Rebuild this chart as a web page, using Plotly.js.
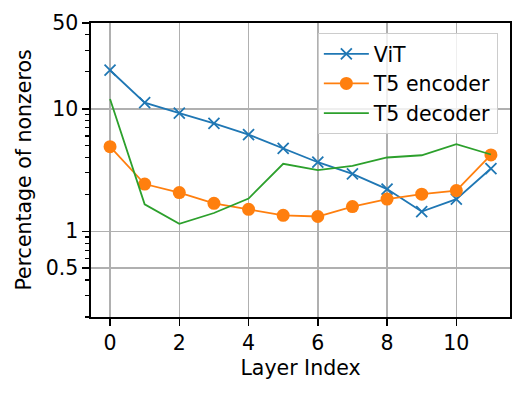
<!DOCTYPE html>
<html>
<head>
<meta charset="utf-8">
<script src="https://cdn.plot.ly/plotly-3.0.1.min.js"></script>
<style>
  html, body { margin: 0; padding: 0; background: #fff; }
  #plot { width: 524px; height: 395px; }
</style>
</head>
<body>
<div id="plot"></div>
<script>
// layer index 0..11
const layers = [0, 1, 2, 3, 4, 5, 6, 7, 8, 9, 10, 11];

// percentage of nonzeros per layer
const vit = [20.6, 11.2, 9.2, 7.6, 6.15, 4.75, 3.66, 2.94, 2.21, 1.45, 1.83, 3.25];
const t5Encoder = [4.9, 2.43, 2.07, 1.69, 1.51, 1.35, 1.32, 1.59, 1.83, 2.01, 2.15, 4.2];
const t5Decoder = [12.0, 1.66, 1.15, 1.41, 1.85, 3.55, 3.15, 3.42, 4.0, 4.17, 5.13, 4.23];

const yTickVals = [0.5, 1, 10, 50];
const yTickText = ['0.5', '1', '10', '50'];
const yMinorVals = [0.2, 0.3, 0.4, 0.6, 0.7, 0.8, 0.9,
  2, 3, 4, 5, 6, 7, 8, 9, 20, 30, 40];
const xTickVals = [0, 2, 4, 6, 8, 10];

const font = { family: 'DejaVu Sans', size: 20.5, color: '#000' };

const traces = [
  {
    x: layers, y: vit, name: 'ViT', mode: 'lines+markers',
    line: { color: '#1f77b4', width: 1.8 },
    marker: { symbol: 'x-thin', size: 11, line: { color: '#1f77b4', width: 1.8 } },
  },
  {
    x: layers, y: t5Encoder, name: 'T5 encoder', mode: 'lines+markers',
    line: { color: '#ff7f0e', width: 1.8 },
    marker: { symbol: 'circle', size: 13, color: '#ff7f0e' },
  },
  {
    x: layers, y: t5Decoder, name: 'T5 decoder', mode: 'lines',
    line: { color: '#2ca02c', width: 1.8 },
  },
];

const layout = {
  width: 524, height: 395,
  margin: { l: 91, r: 14, t: 23, b: 78 },
  paper_bgcolor: '#fff', plot_bgcolor: '#fff',
  font: font,
  showlegend: true,
  legend: {
    x: 0.971, y: 0.966, xanchor: 'right', yanchor: 'top',
    bgcolor: 'rgba(255,255,255,0.8)', bordercolor: '#cccccc', borderwidth: 1,
    itemwidth: 45,
    font: font,
  },
  xaxis: {
    range: [-0.55, 11.55],
    tickvals: xTickVals,
    ticks: 'outside', ticklen: 7, tickwidth: 1.6, tickcolor: '#000',
    showgrid: true, gridcolor: '#b0b0b0', gridwidth: 1.6,
    showline: true, linecolor: '#000', linewidth: 1.6, mirror: true,
    zeroline: false,
    title: { text: 'Layer Index', font: font, standoff: 6 },
  },
  yaxis: {
    type: 'log',
    range: [Math.log10(0.2), Math.log10(50)],
    tickvals: yTickVals, ticktext: yTickText,
    ticks: 'outside', ticklen: 7, tickwidth: 1.6, tickcolor: '#000',
    minor: { tickvals: yMinorVals, ticks: 'outside', ticklen: 4, tickwidth: 1.2, tickcolor: '#000', showgrid: false },
    showgrid: true, gridcolor: '#b0b0b0', gridwidth: 1.6,
    showline: true, linecolor: '#000', linewidth: 1.6, mirror: true,
    zeroline: false,
    title: { text: 'Percentage of nonzeros', font: font, standoff: 8 },
  },
};

Plotly.newPlot('plot', traces, layout, { staticPlot: true });
</script>
</body>
</html>
